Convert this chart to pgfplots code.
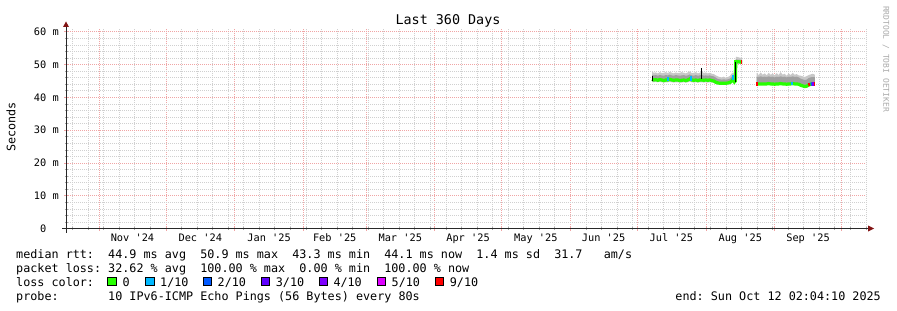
\documentclass[border=0pt]{standalone}
\usepackage{fontspec}
\setmainfont{DejaVu Sans Mono}
\setmonofont{DejaVu Sans Mono}
\usepackage{pgfplots}
\pgfplotsset{compat=1.18}
\usepackage{pgfplotstable}
\usepgfplotslibrary{fillbetween}

\definecolor{gridred}{RGB}{240,165,165}
\definecolor{gridgrey}{RGB}{208,208,208}
\definecolor{axiscol}{RGB}{40,40,40}
\definecolor{arrowred}{RGB}{130,20,20}
\definecolor{smokeL}{RGB}{200,200,200}
\definecolor{smokeD}{RGB}{160,160,160}
\definecolor{wmgray}{RGB}{170,170,170}
\definecolor{lc0}{RGB}{38,255,0}
\definecolor{lc1}{RGB}{0,184,255}
\definecolor{lc2}{RGB}{0,89,255}
\definecolor{lc3}{RGB}{94,0,255}
\definecolor{lc4}{RGB}{126,0,255}
\definecolor{lc5}{RGB}{221,0,255}
\definecolor{lc9}{RGB}{255,0,0}

% x = days since start (Oct 17 2024 02:04)
\pgfplotstableread{
x lo dlo dhi hi med
263.7 44.7 45.0 46.9 47.8 45.5
264.5 44.6 44.9 46.7 47.5 45.3
265.4 44.7 45.0 46.8 47.6 45.4
266.3 44.6 44.9 46.6 47.3 45.2
267.2 44.7 45.0 46.8 47.7 45.4
268.1 44.6 44.9 46.7 47.4 45.3
269.0 44.5 44.8 46.6 47.5 45.1
269.9 44.6 44.9 46.8 47.7 45.3
270.8 44.6 44.9 46.7 47.4 45.3
271.7 44.7 45.0 46.9 47.8 45.5
272.6 44.6 44.9 46.7 47.5 45.3
273.5 44.5 44.8 46.6 47.3 45.2
274.4 44.6 44.9 46.8 47.6 45.3
275.3 44.6 44.9 46.7 47.4 45.3
276.2 44.5 44.8 46.6 47.5 45.1
277.1 44.5 44.8 46.7 47.7 45.2
278.0 44.6 44.9 46.8 47.5 45.3
278.9 44.5 44.8 46.6 47.3 45.1
279.8 44.6 44.9 46.7 47.6 45.3
280.7 44.8 45.1 47.0 47.9 45.6
281.6 44.6 44.9 46.7 47.4 45.3
282.5 44.5 44.8 46.6 47.5 45.2
283.4 44.6 44.9 46.8 47.7 45.3
284.3 44.5 44.8 46.6 47.3 45.1
285.2 44.6 44.9 46.7 47.5 45.3
286.1 44.6 44.9 46.9 47.9 45.3
287.0 44.5 44.8 46.6 47.4 45.2
287.9 44.6 44.9 46.7 47.6 45.3
288.8 44.5 44.8 46.6 47.3 45.2
289.7 44.6 44.9 46.7 47.5 45.3
290.6 44.5 44.8 46.5 47.2 45.1
291.5 44.4 44.7 46.4 47.1 45.0
292.4 44.1 44.3 46.0 46.7 44.6
293.3 43.9 44.1 45.6 46.4 44.4
294.2 43.9 44.1 45.5 46.2 44.3
295.1 43.9 44.1 45.4 46.1 44.3
296.0 43.9 44.1 45.5 46.3 44.3
296.9 43.9 44.1 45.4 46.0 44.3
297.8 43.9 44.1 45.5 46.2 44.4
298.7 44.0 44.2 45.7 46.5 44.5
299.6 44.3 44.6 46.3 47.3 45.0
300.2 44.8 45.1 46.7 47.6 45.5
300.8 44.2 44.5 45.9 46.8 44.7
301.2 44.4 44.7 46.0 46.9 45.0
301.4 50.3 50.6 51.6 52.4 50.9
302.2 50.2 50.5 51.5 52.3 50.9
303.2 50.2 50.5 51.4 52.1 50.8
304.3 50.2 50.5 51.3 52.0 50.8
}\segA

\pgfplotstableread{
x lo dlo dhi hi med
310.8 43.8 44.4 46.3 47.4 44.1
311.7 43.8 44.4 46.2 46.8 44.1
312.6 43.8 44.4 46.4 47.6 44.1
313.5 43.8 44.4 46.2 46.9 44.1
314.4 43.8 44.4 46.3 47.3 44.1
315.3 43.8 44.4 46.2 46.7 44.1
316.2 43.8 44.4 46.4 47.5 44.2
317.1 43.8 44.4 46.2 46.9 44.1
318.0 43.8 44.4 46.3 47.2 44.1
318.9 43.8 44.4 46.1 46.7 44.0
319.8 43.8 44.4 46.3 47.4 44.1
320.7 43.8 44.4 46.2 46.8 44.1
321.6 43.8 44.4 46.4 47.7 44.2
322.5 43.8 44.4 46.2 46.9 44.1
323.4 43.8 44.4 46.3 47.2 44.1
324.3 43.8 44.4 46.1 46.6 44.0
325.2 43.8 44.4 46.3 47.3 44.1
326.1 43.8 44.4 46.2 46.8 44.1
327.0 43.8 44.4 46.4 47.5 44.2
327.9 43.8 44.4 46.2 46.9 44.1
328.8 43.8 44.4 46.3 47.1 44.1
329.7 43.7 44.3 46.1 46.7 44.0
330.6 43.4 43.9 45.7 46.6 43.7
331.5 43.2 43.7 45.5 46.4 43.5
332.4 43.0 43.5 45.3 46.2 43.3
333.3 43.1 43.6 45.4 46.5 43.4
334.2 43.5 44.0 45.9 46.8 43.8
335.1 43.7 44.3 46.1 47.0 44.0
336.0 43.8 44.4 46.2 47.2 44.1
337.0 43.8 44.4 46.2 46.9 44.1
}\segB

\begin{document}
\frenchspacing
\begin{tikzpicture}[x=1bp,y=1bp]
\path (0,0) rectangle (897,310);
\begin{axis}[
  at={(66bp,81.5bp)}, anchor=south west,
  scale only axis, width=800bp, height=200bp,
  xmin=0, xmax=360, ymin=0, ymax=61,
  axis line style={draw=none},
  tick pos=left,
  tick align=center,
  major tick length=4bp, minor tick length=3bp,
  major tick style={draw=gridred, line width=0.6bp},
  minor tick style={draw=gray!70, line width=0.6bp},
  xtick={14.914,44.914,75.914,106.914,134.914,165.914,195.914,226.914,256.914,287.914,318.914,348.914},
  xticklabels={},
  minor xtick={2.914,9.914,...,359.914},
  extra x ticks={29.914,60.414,91.414,120.914,150.414,180.914,211.414,241.914,272.414,303.414,333.914},
  extra x tick labels={Nov~\textquotesingle24,Dec~\textquotesingle24,Jan~\textquotesingle25,Feb~\textquotesingle25,Mar~\textquotesingle25,Apr~\textquotesingle25,May~\textquotesingle25,Jun~\textquotesingle25,Jul~\textquotesingle25,Aug~\textquotesingle25,Sep~\textquotesingle25},
  extra x tick style={grid=none, major tick length=0pt},
  ytick={0,10,20,30,40,50,60},
  yticklabels={0\phantom{~m},10~m,20~m,30~m,40~m,50~m,60~m},
  minor ytick={2,4,6,8,12,14,16,18,22,24,26,28,32,34,36,38,42,44,46,48,52,54,56,58},
  grid=both,
  major grid style={draw=gridred, dash pattern=on 1bp off 1bp, line width=0.6bp},
  minor grid style={draw=gridgrey, dash pattern=on 1bp off 1bp, line width=0.6bp},
  tick label style={font=\fontsize{10.3bp}{12bp}\selectfont, inner sep=0pt},
  xticklabel style={anchor=base, yshift=-13.2bp},
  yticklabel style={anchor=east, xshift=-5bp},
]
% smoke, segment A
\addplot[draw=none, name path=AH, forget plot] table[x=x,y=hi]{\segA};
\addplot[draw=none, name path=AL, forget plot] table[x=x,y=lo]{\segA};
\addplot[fill=smokeL, draw=none, forget plot] fill between[of=AH and AL];
\addplot[draw=none, name path=ADH, forget plot] table[x=x,y=dhi]{\segA};
\addplot[draw=none, name path=ADL, forget plot] table[x=x,y=dlo]{\segA};
\addplot[fill=smokeD, draw=none, forget plot] fill between[of=ADH and ADL];
% smoke, segment B
\addplot[draw=none, name path=BH, forget plot] table[x=x,y=hi]{\segB};
\addplot[draw=none, name path=BL, forget plot] table[x=x,y=lo]{\segB};
\addplot[fill=smokeL, draw=none, forget plot] fill between[of=BH and BL];
\addplot[draw=none, name path=BDH, forget plot] table[x=x,y=dhi]{\segB};
\addplot[draw=none, name path=BDL, forget plot] table[x=x,y=dlo]{\segB};
\addplot[fill=smokeD, draw=none, forget plot] fill between[of=BDH and BDL];
% median lines
\addplot[lc0, line width=3.2bp, forget plot] table[x=x,y=med]{\segA};
\addplot[lc0, line width=3.2bp, forget plot] table[x=x,y=med]{\segB};
% spikes
\addplot[black, line width=1.1bp, forget plot] coordinates {(286.1,45.6) (286.1,49.0)};
\addplot[black, line width=1.1bp, forget plot] coordinates {(301.3,44.6) (301.3,50.9)};
\addplot[black, line width=1.1bp, forget plot] coordinates {(263.8,45.0) (263.8,46.6)};
% loss-coloured stretches of the median
\addplot[lc1, line width=2.2bp, forget plot] coordinates {(270.9,44.9) (270.9,46.2)};
\addplot[lc1, line width=2.2bp, forget plot] coordinates {(281.1,45.0) (281.1,46.6)};
\addplot[lc1, line width=2.2bp, forget plot] coordinates {(300.2,45.2) (300.2,46.8)};
\addplot[lc9, line width=3.2bp, forget plot] coordinates {(303.8,50.8) (304.3,50.8)};
\addplot[lc9, line width=1.6bp, forget plot] coordinates {(310.95,43.6) (310.95,44.6)};
\addplot[lc1, line width=2bp, forget plot] coordinates {(326.6,43.8) (326.6,44.6)};
\addplot[lc9, line width=3.2bp, forget plot] coordinates {(334.0,43.8) (334.8,43.95)};
\addplot[lc2, line width=3.2bp, forget plot] coordinates {(335.1,44.0) (335.8,44.1)};
\addplot[lc4, line width=3.2bp, forget plot] coordinates {(335.8,44.1) (336.5,44.1)};
\addplot[lc9, line width=3.2bp, forget plot] coordinates {(336.5,44.1) (337.0,44.1)};
\end{axis}
% axes with arrows
\draw[axiscol, line width=1bp] (62,81.5) -- (869,81.5);
\fill[arrowred] (868,84.5) -- (874,81.5) -- (868,78.5) -- cycle;
\draw[axiscol, line width=1bp] (66,77.5) -- (66,284);
\fill[arrowred] (63,283) -- (66,288.5) -- (69,283) -- cycle;
% title, unit label, watermark
\node[anchor=base, font=\fontsize{13.4bp}{15bp}\selectfont] at (448,286) {Last~360~Days};
\node[rotate=90, font=\fontsize{11.7bp}{14bp}\selectfont] at (11,183) {Seconds};
\node[rotate=-90, text=wmgray, font=\fontsize{8bp}{9bp}\selectfont] at (886,251) {RRDTOOL~/~TOBI~OETIKER};
% legend
\begin{scope}[every node/.style={font=\fontsize{11.76bp}{14bp}\selectfont, inner sep=0pt}]
\node[anchor=base west] at (16,51.7) {median~rtt:~~44.9~ms~avg~~50.9~ms~max~~43.3~ms~min~~44.1~ms~now~~1.4~ms~sd~~31.7~~~am/s};
\node[anchor=base west] at (16,37.8) {packet~loss:~32.62~\%~avg~~100.00~\%~max~~0.00~\%~min~~100.00~\%~now};
\node[anchor=base west] at (16,23.9) {loss~color:};
\filldraw[fill=lc0, draw=black, line width=0.8bp] (107.8,24.2) rectangle ++(8.5,8.5);
\node[anchor=base west] at (122.5,23.9) {0};
\filldraw[fill=lc1, draw=black, line width=0.8bp] (145.5,24.2) rectangle ++(8.5,8.5);
\node[anchor=base west] at (160,23.9) {1/10};
\filldraw[fill=lc2, draw=black, line width=0.8bp] (203,24.2) rectangle ++(8.5,8.5);
\node[anchor=base west] at (217.5,23.9) {2/10};
\filldraw[fill=lc3, draw=black, line width=0.8bp] (261.2,24.2) rectangle ++(8.5,8.5);
\node[anchor=base west] at (275.7,23.9) {3/10};
\filldraw[fill=lc4, draw=black, line width=0.8bp] (319,24.2) rectangle ++(8.5,8.5);
\node[anchor=base west] at (333.3,23.9) {4/10};
\filldraw[fill=lc5, draw=black, line width=0.8bp] (377,24.2) rectangle ++(8.5,8.5);
\node[anchor=base west] at (391.5,23.9) {5/10};
\filldraw[fill=lc9, draw=black, line width=0.8bp] (435.3,24.2) rectangle ++(8.5,8.5);
\node[anchor=base west] at (449.7,23.9) {9/10};
\node[anchor=base west] at (16,10) {probe:~~~~~~~10~IPv6-ICMP~Echo~Pings~(56~Bytes)~every~80s};
\node[anchor=base east] at (881,10) {end:~Sun~Oct~12~02:04:10~2025};
\end{scope}
\useasboundingbox (0,0) rectangle (897,310);
\end{tikzpicture}
\end{document}
